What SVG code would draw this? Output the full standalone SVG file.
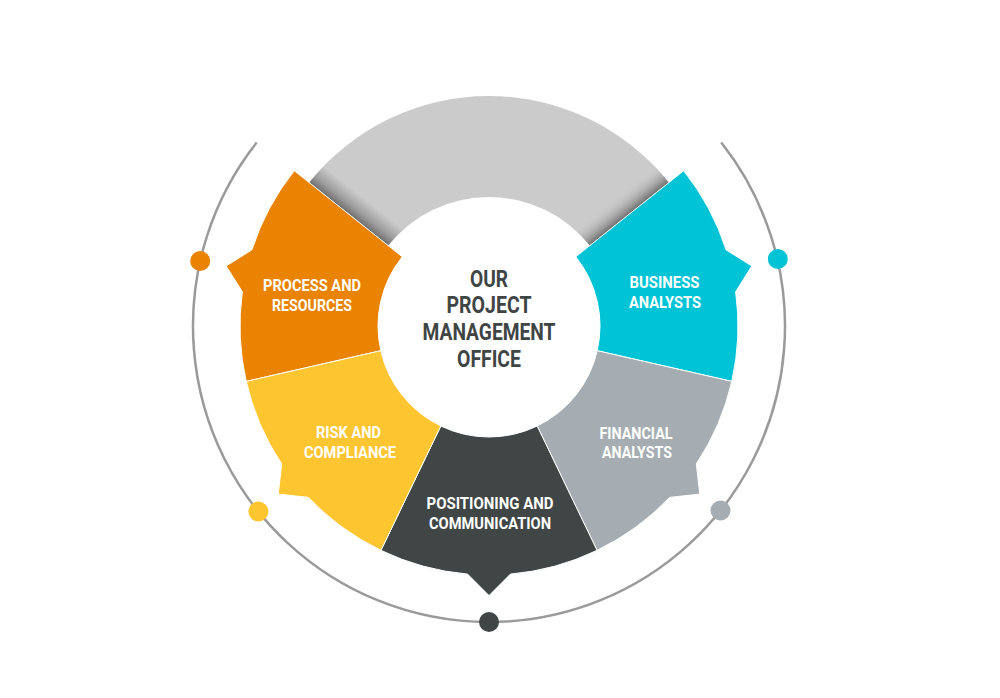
<svg xmlns="http://www.w3.org/2000/svg" width="1000" height="698" viewBox="0 0 1000 698">
<style>
.seg{stroke:#ffffff;stroke-width:1;stroke-linejoin:round}
.lbl{font-family:Roboto,"Liberation Sans",sans-serif;font-weight:700;font-size:17px;fill:#ffffff;text-anchor:middle}
.ctr{font-family:Roboto,"Liberation Sans",sans-serif;font-weight:700;font-size:23px;fill:#3f4545;text-anchor:middle}
.ring{fill:none;stroke:#9a9a9a;stroke-width:2.5}
</style>
<defs>
<linearGradient id="shL" gradientUnits="userSpaceOnUse" x1="348.7" y1="214.1" x2="362.4" y2="196.9">
<stop offset="0" stop-color="#6e6e6e"/>
<stop offset="0.4" stop-color="#9e9e9e"/>
<stop offset="1" stop-color="#cbcbcb"/>
</linearGradient>
<linearGradient id="shR" gradientUnits="userSpaceOnUse" x1="629.3" y1="214.1" x2="615.6" y2="196.9">
<stop offset="0" stop-color="#6e6e6e" stop-opacity="1"/>
<stop offset="0.4" stop-color="#9e9e9e" stop-opacity="0.7"/>
<stop offset="1" stop-color="#cbcbcb" stop-opacity="0"/>
</linearGradient>
</defs>
<rect width="1000" height="698" fill="#ffffff"/>

<g id="outer-ring">
<path class="ring" d="M256.7,142.6 A296,296 0 1 0 721.3,142.6"/>
</g>

<g id="top-band">
<path d="M309.19,182.59 A230,230 0 0 1 668.81,182.59 L589.85,245.57 A129,129 0 0 0 388.15,245.57 Z" fill="url(#shL)"/>
<path d="M309.19,182.59 A230,230 0 0 1 668.81,182.59 L589.85,245.57 A129,129 0 0 0 388.15,245.57 Z" fill="url(#shR)"/>
</g>

<g id="node-process">
<path class="seg" fill="#e98300" d="M246.25,381.40 A249,249 0 0 1 242.37,291.76 L226.17,266.01 L251.93,249.86 A249,249 0 0 1 294.33,170.75 L402.22,256.79 A111,111 0 0 0 380.79,350.70 Z"/>
<text class="lbl" x="312" y="291" textLength="98" lengthAdjust="spacingAndGlyphs">PROCESS AND</text>
<text class="lbl" x="312" y="310.7" textLength="80" lengthAdjust="spacingAndGlyphs">RESOURCES</text>
<circle cx="200.2" cy="261" r="10" fill="#e98300"/>
</g>

<g id="node-business">
<path class="seg" fill="#00c4d6" d="M683.67,170.75 A249,249 0 0 1 726.07,249.86 L751.83,266.01 L735.63,291.76 A249,249 0 0 1 731.75,381.40 L597.21,350.70 A111,111 0 0 0 575.78,256.79 Z"/>
<text class="lbl" x="664.5" y="288.3" textLength="70" lengthAdjust="spacingAndGlyphs">BUSINESS</text>
<text class="lbl" x="665" y="307.7" textLength="72" lengthAdjust="spacingAndGlyphs">ANALYSTS</text>
<circle cx="777.8" cy="259" r="10" fill="#00c4d6"/>
</g>

<g id="node-financial">
<path class="seg" fill="#a5adb2" d="M731.75,381.40 A249,249 0 0 1 696.32,463.87 L699.77,494.10 L669.62,497.39 A249,249 0 0 1 597.04,550.35 L537.16,426.01 A111,111 0 0 0 597.21,350.70 Z"/>
<text class="lbl" x="636" y="439" textLength="73" lengthAdjust="spacingAndGlyphs">FINANCIAL</text>
<text class="lbl" x="637" y="458.3" textLength="70" lengthAdjust="spacingAndGlyphs">ANALYSTS</text>
<circle cx="720.5" cy="510.5" r="10" fill="#a5adb2"/>
</g>

<g id="node-positioning">
<path class="seg" fill="#404646" d="M597.04,550.35 A249,249 0 0 1 510.49,574.08 L489,595.6 L467.51,574.08 A249,249 0 0 1 380.96,550.35 L440.84,426.01 A111,111 0 0 0 537.16,426.01 Z"/>
<text class="lbl" x="490" y="509" textLength="127" lengthAdjust="spacingAndGlyphs">POSITIONING AND</text>
<text class="lbl" x="490" y="529.3" textLength="122" lengthAdjust="spacingAndGlyphs">COMMUNICATION</text>
<circle cx="489" cy="622" r="10" fill="#404646"/>
</g>

<g id="node-risk">
<path class="seg" fill="#fdc530" d="M380.96,550.35 A249,249 0 0 1 308.38,497.39 L278.23,494.10 L281.68,463.87 A249,249 0 0 1 246.25,381.40 L380.79,350.70 A111,111 0 0 0 440.84,426.01 Z"/>
<text class="lbl" x="348.5" y="438.3" textLength="65" lengthAdjust="spacingAndGlyphs">RISK AND</text>
<text class="lbl" x="350" y="458.3" textLength="92" lengthAdjust="spacingAndGlyphs">COMPLIANCE</text>
<circle cx="258.4" cy="511.5" r="10" fill="#fdc530"/>
</g>

<g id="node-center">
<text class="ctr" x="489" y="287.3" textLength="38" lengthAdjust="spacingAndGlyphs">OUR</text>
<text class="ctr" x="489" y="312.7" textLength="85" lengthAdjust="spacingAndGlyphs">PROJECT</text>
<text class="ctr" x="489" y="340" textLength="133" lengthAdjust="spacingAndGlyphs">MANAGEMENT</text>
<text class="ctr" x="489" y="366.5" textLength="64" lengthAdjust="spacingAndGlyphs">OFFICE</text>
</g>
</svg>
